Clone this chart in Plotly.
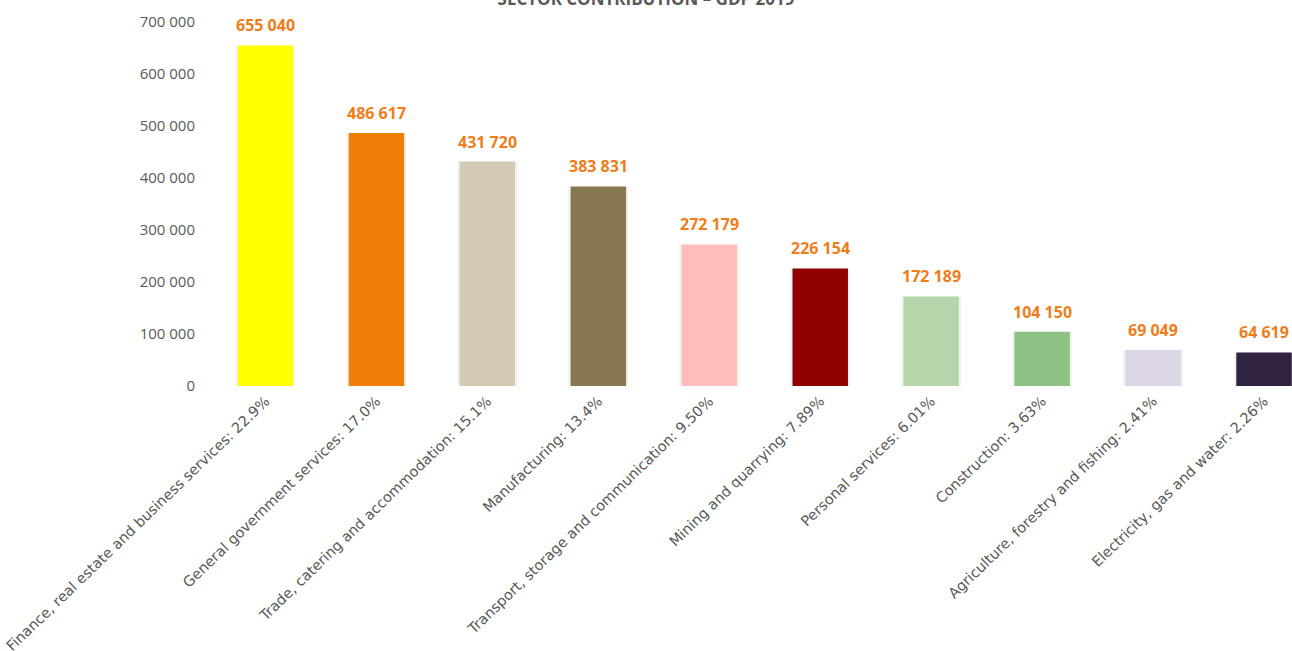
import plotly.graph_objects as go

sectors = [
    "Finance, real estate and business services",
    "General government services",
    "Trade, catering and accommodation",
    "Manufacturing",
    "Transport, storage and communication",
    "Mining and quarrying",
    "Personal services",
    "Construction",
    "Agriculture, forestry and fishing",
    "Electricity, gas and water",
]
values = [655040, 486617, 431720, 383831, 272179, 226154, 172189, 104150, 69049, 64619]
shares = ["22.9%", "17.0%", "15.1%", "13.4%", "9.50%", "7.89%", "6.01%", "3.63%", "2.41%", "2.26%"]
colors = ["#FFFF00", "#F07F09", "#D4CBB5", "#877852", "#FFBDBD",
          "#900000", "#B5D5AA", "#8DC283", "#DCD6E6", "#31233F"]
title_text = "SECTOR CONTRIBUTION – GDP 2019"

labels = [f"{s}: {p}" for s, p in zip(sectors, shares)]
idx = list(range(len(values)))

fig = go.Figure()
# soft shadow
fig.add_trace(go.Bar(x=idx, y=values, width=0.54, marker=dict(color="rgba(0,0,0,0.05)", line=dict(width=0)),
                     hoverinfo="skip", showlegend=False))
fig.add_trace(go.Bar(x=idx, y=values, width=0.5, marker=dict(color=colors, line=dict(width=0)),
                     showlegend=False))

for i, v in zip(idx, values):
    fig.add_annotation(x=i, y=v, text=f"{v:,}".replace(",", " "), showarrow=False,
                       yanchor="middle", yshift=20,
                       font=dict(family="Open Sans", size=16, color="#EE7D1A", weight="bold"))

fig.update_layout(
    width=1292, height=651,
    margin=dict(l=210, r=0, t=22, b=265, autoexpand=False),
    barmode="overlay",
    paper_bgcolor="white", plot_bgcolor="white",
    separators=". ",
    title=dict(text=title_text, x=0.5, xanchor="center", y=0.993, yanchor="bottom", yref="container",
               font=dict(family="Open Sans", size=17, color="#595959", weight="bold")),
    font=dict(family="Open Sans", color="#595959"),
    xaxis=dict(tickmode="array", tickvals=idx, ticktext=labels, tickangle=-44,
               range=[-0.5, 9.252], showgrid=False, zeroline=False, showline=False,
               ticklabelstandoff=3, automargin=False,
               tickfont=dict(family="DejaVu Sans", size=14.4, color="#595959")),
    yaxis=dict(range=[0, 700000], dtick=100000, tickformat=",d", showgrid=False,
               zeroline=False, showline=False, ticklabelstandoff=14, automargin=False,
               tickfont=dict(size=15, color="#595959")),
)

fig.write_html("out.html")
